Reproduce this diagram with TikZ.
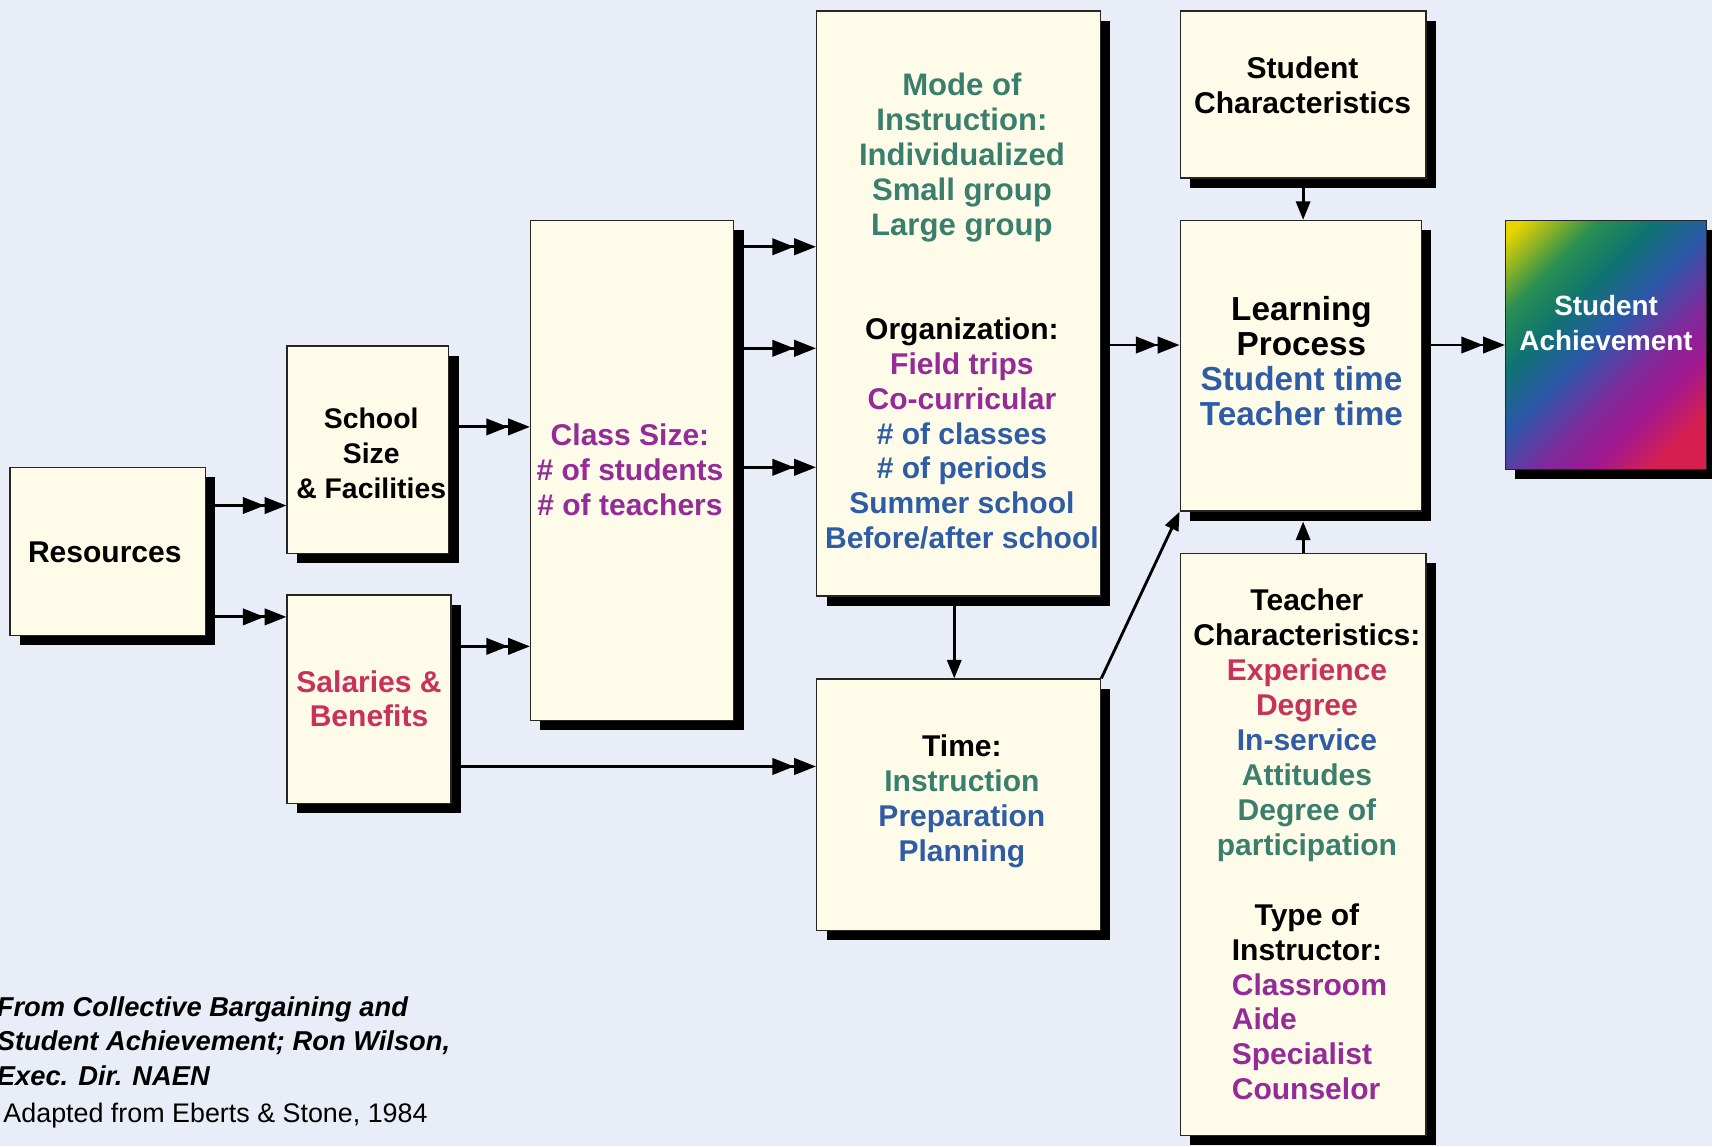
\documentclass[tikz,border=0pt]{standalone}
\usepackage{fontspec}
\setmainfont{Liberation Sans}
\usetikzlibrary{arrows.meta,shadows,calc}
\definecolor{bg}{HTML}{E8EDF7}
\definecolor{cream}{HTML}{FEFCE8}
\definecolor{tgreen}{HTML}{3A7F6E}
\definecolor{tpurple}{HTML}{952B98}
\definecolor{tblue}{HTML}{2E5CA6}
\definecolor{tred}{HTML}{C8325A}
\definecolor{gY}{HTML}{E8D400}
\definecolor{gG}{HTML}{2A9050}
\definecolor{gT}{HTML}{0F7470}
\definecolor{gB}{HTML}{2A58A8}
\definecolor{gP}{HTML}{7E2A9C}
\definecolor{gM}{HTML}{A01890}
\definecolor{gR}{HTML}{D82050}
\pgfdeclarehorizontalshading{rainbowdiag}{100bp}{color(0bp)=(gY); color(17bp)=(gY); color(29bp)=(gG); color(38bp)=(gT); color(48bp)=(gB); color(59bp)=(gP); color(67bp)=(gM); color(77bp)=(gR); color(100bp)=(gR)}
\begin{document}
\begin{tikzpicture}[x=1pt,y=-1pt,
  box/.style={draw=black!85, line width=1.3pt, fill=cream, inner sep=0pt,
    drop shadow={shadow xshift=9pt, shadow yshift=-9pt, fill=black, opacity=1}},
  txt/.style={align=center, inner sep=0pt, font=\fontsize{27.5}{32}\selectfont\bfseries},
  dbl/.style={line width=2.6pt, -{Triangle[length=20pt,width=15pt]Triangle[length=20pt,width=15pt]}},
  sgl/.style={line width=2.6pt, -{Triangle[length=17pt,width=13pt]}}
]
\fill[bg] (0,0) rectangle (1568,1050);
\useasboundingbox (0,0) rectangle (1568,1050);

% boxes
\node[box, minimum width=179pt, minimum height=154pt] (res) at (98.5,505) {};
\node[box, minimum width=148pt, minimum height=190pt] (sch) at (337,412) {};
\node[box, minimum width=150pt, minimum height=191pt] (sal) at (338,640.5) {};
\node[box, minimum width=186pt, minimum height=458pt] (cls) at (579,431) {};
\node[box, minimum width=260pt, minimum height=536pt] (mode) at (878,278) {};
\node[box, minimum width=260pt, minimum height=230pt] (time) at (878,737) {};
\node[box, minimum width=225pt, minimum height=153pt] (stu) at (1193.5,86.5) {};
\node[box, minimum width=221pt, minimum height=266pt] (lrn) at (1191.5,335) {};
\node[box, minimum width=225pt, minimum height=533pt] (tch) at (1193.5,773.5) {};
\node[draw=black!85, line width=1.3pt, inner sep=0pt, shading=rainbowdiag, shading angle=-45,
  drop shadow={shadow xshift=9pt, shadow yshift=-9pt, fill=black, opacity=1},
  minimum width=184pt, minimum height=228pt] (ach) at (1471,316) {};

% texts
\node[txt] (tres) at (96,506) {Resources};
\node[txt, font=\fontsize{26}{32}\selectfont\bfseries] (tsch) at (340,415) {School\\Size\\\& Facilities};
\node[txt, text=tred] (tsal) at (338,640) {Salaries \&\\Benefits};
\node[txt, text=tpurple] (tcls) at (577,430) {Class Size:\\\# of students\\\# of teachers};
\node[txt, text=tgreen, font=\fontsize{28.5}{32}\selectfont\bfseries] (tmode) at (881,144)
  {Mode of\\Instruction:\\Individualized\\Small group\\Large group};
\node[txt] (torg) at (881,397)
  {Organization:\\\textcolor{tpurple}{Field trips}\\\textcolor{tpurple}{Co-curricular}\\
   \textcolor{tblue}{\# of classes}\\\textcolor{tblue}{\# of periods}\\
   \textcolor{tblue}{Summer school}\\\textcolor{tblue}{Before/after school}};
\node[txt] (ttime) at (881,734)
  {Time:\\\textcolor{tgreen}{Instruction}\\\textcolor{tblue}{Preparation}\\\textcolor{tblue}{Planning}};
\node[txt] (tstu) at (1193,78) {Student\\Characteristics};
\node[txt, font=\fontsize{30.5}{32}\selectfont\bfseries] (tlrn) at (1192,331)
  {Learning\\Process\\\textcolor{tblue}{Student time}\\\textcolor{tblue}{Teacher time}};
\node[txt] (ttch) at (1197,664)
  {Teacher\\Characteristics:\\\textcolor{tred}{Experience}\\\textcolor{tred}{Degree}\\
   \textcolor{tblue}{In-service}\\\textcolor{tgreen}{Attitudes}\\\textcolor{tgreen}{Degree of}\\
   \textcolor{tgreen}{participation}};
\node[txt] (ttype) at (1197,854) {Type of\\Instructor:};
\node[txt, align=left, anchor=west, text=tpurple] (tlist) at (1128,949.5)
  {Classroom\\Aide\\Specialist\\Counselor};
\node[txt, text=white, font=\fontsize{25.5}{32}\selectfont\bfseries] (tach) at (1471,296)
  {Student\\Achievement};
\node[inner sep=0pt, anchor=west, align=left, font=\fontsize{25}{31.5}\selectfont\bfseries\itshape]
  (cap1) at (-3,953.5) {From Collective Bargaining and\\Student Achievement; Ron Wilson,\\Exec. Dir. NAEN};
\node[inner sep=0pt, anchor=west, font=\fontsize{24.6}{28}\selectfont] (cap2) at (3,1022)
  {Adapted from Eberts \& Stone, 1984};

% connectors
\coordinate (a1) at ([yshift=42pt]res.east);
\coordinate (a2) at ([yshift=-60pt]res.east);
\coordinate (a3) at ([yshift=21pt]sch.east);
\coordinate (a4) at ([yshift=48.5pt]sal.east);
\coordinate (a5) at ([yshift=-61.5pt]sal.east);
\coordinate (a6) at ([yshift=205pt]cls.east);
\coordinate (a7) at ([yshift=112pt]cls.east);
\coordinate (a8) at ([yshift=3pt]cls.east);
\coordinate (a9) at ([xshift=-4pt]mode.south);
\coordinate (a10) at ([yshift=-38pt]mode.east);
\coordinate (a11) at ([yshift=19pt]lrn.east);
\coordinate (lb) at ([yshift=-9pt]lrn.south);

\draw[dbl] (a1) -- (a1 -| sch.west);
\draw[dbl] (a2) -- (a2 -| sal.west);
\draw[dbl] (a3) -- (a3 -| cls.west);
\draw[dbl] (a4) -- (a4 -| cls.west);
\draw[dbl] (a5) -- (a5 -| time.west);
\draw[dbl] (a6) -- (a6 -| mode.west);
\draw[dbl] (a7) -- (a7 -| mode.west);
\draw[dbl] (a8) -- (a8 -| mode.west);
\draw[sgl] (a9) -- (a9 |- time.north);
\draw[sgl] (time.north east) -- (lrn.south west);
\draw[dbl] (a10) -- (a10 -| lrn.west);
\draw[sgl] (stu.south) -- (stu.south |- lrn.north);
\draw[sgl] (tch.north) -- (tch.north |- lb);
\draw[dbl] (a11) -- (a11 -| ach.west);
\end{tikzpicture}
\end{document}
